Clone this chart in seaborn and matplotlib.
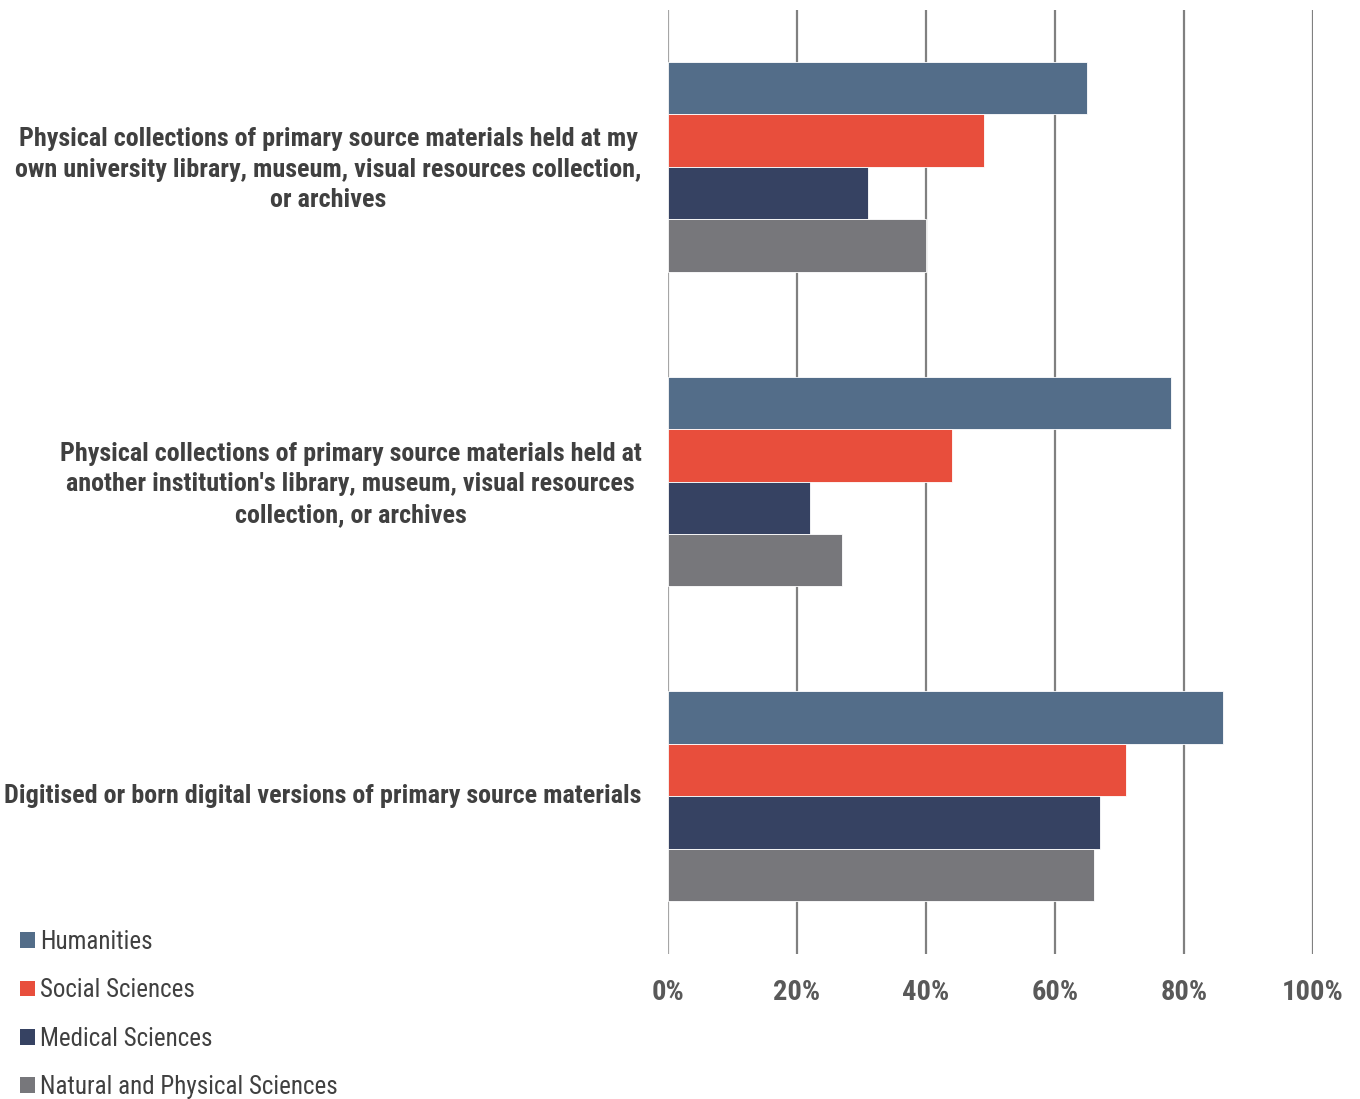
import matplotlib
matplotlib.use("Agg")
import matplotlib.pyplot as plt
import matplotlib.transforms as mtransforms
import seaborn as sns
import pandas as pd
from matplotlib.patches import Patch
from matplotlib.ticker import FuncFormatter

# Survey categories (y axis) and disciplines (hue)
categories = [
    "Physical collections of primary source materials held at my\nown university library, museum, visual resources collection,\nor archives",
    "Physical collections of primary source materials held at\nanother institution's library, museum, visual resources\ncollection, or archives",
    "Digitised or born digital versions of primary source materials",
]
fields = ["Humanities", "Social Sciences", "Medical Sciences", "Natural and Physical Sciences"]

# Share of respondents (%) per category, one list per discipline
humanities = [65, 78, 86]
social_sciences = [49, 44, 71]
medical_sciences = [31, 22, 67]
natural_physical = [40, 27, 66]

colors = ["#536d89", "#e84e3c", "#364262", "#77777b"]
xticks = [0, 20, 40, 60, 80, 100]

rows = []
for field, vals in zip(fields, [humanities, social_sciences, medical_sciences, natural_physical]):
    for cat, v in zip(categories, vals):
        rows.append({"Category": cat, "Field": field, "Value": v})
df = pd.DataFrame(rows)

sns.set_theme(style="white")
plt.rcParams["font.family"] = ["Roboto Condensed", "Liberation Sans", "DejaVu Sans"]

fig = plt.figure(figsize=(13.6, 10.99), dpi=100)
ax = fig.add_axes([668 / 1360, 1 - 953.5 / 1099, 645 / 1360, 944 / 1099])

sns.barplot(data=df, y="Category", x="Value", hue="Field", order=categories,
            hue_order=fields, palette=colors, orient="h", width=0.667,
            saturation=1, ax=ax, legend=False, edgecolor="white", linewidth=0.6)

ax.set_xlim(0, 100)
ax.set_xticks(xticks)
ax.xaxis.set_major_formatter(FuncFormatter(lambda v, p: f"{v:.0f}%"))
ax.set_xlabel("")
ax.set_ylabel("")
for s in ax.spines.values():
    s.set_visible(False)

# vertical gridlines drawn behind the bars
ax.set_axisbelow(True)
for t in xticks:
    ax.axvline(t, color="#a6a6a6" if t == 0 else "#808080", lw=1.6, zorder=0)

ax.tick_params(axis="x", length=0, pad=18, labelsize=20.5, labelcolor="#595959")
ax.tick_params(axis="y", length=0, pad=19, labelsize=18.8, labelcolor="#404040")
for lab in ax.get_xticklabels():
    lab.set_fontweight("bold")

# category labels: bold, centred lines, nudged up slightly
nudge = mtransforms.ScaledTranslation(0, 3 / 100, fig.dpi_scale_trans)
for tick in ax.yaxis.get_major_ticks():
    lab = tick.label1
    lab.set_fontweight("bold")
    lab.set_multialignment("center")
    lab.set_linespacing(1.34)
    lab.set_transform(lab.get_transform() + nudge)

handles = [Patch(facecolor=c, edgecolor="none") for c in colors]
fig.legend(handles, fields, loc="upper left", bbox_to_anchor=(20 / 1360, 1 - 930 / 1099),
           frameon=False, fontsize=18, labelcolor="#404040", handlelength=0.6,
           handleheight=0.6, handletextpad=0.2, labelspacing=0.97, borderaxespad=0,
           borderpad=0)

fig.savefig("out.png", dpi=100, facecolor="white")
